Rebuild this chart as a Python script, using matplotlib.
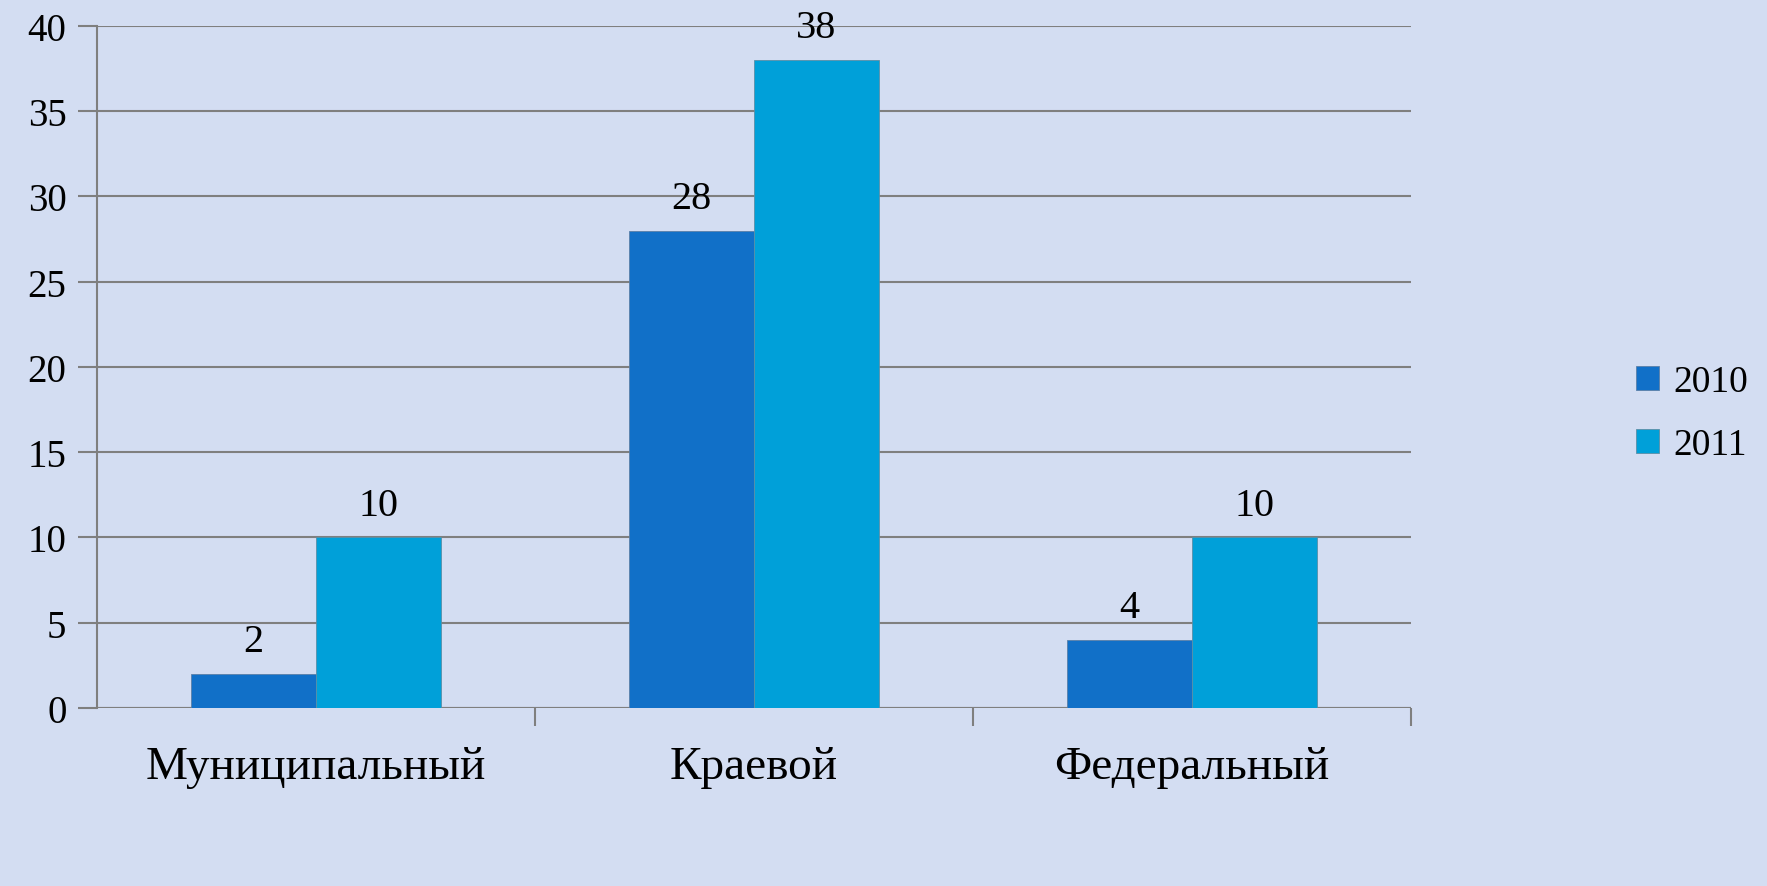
import matplotlib.pyplot as plt
import numpy as np

categories = ['Муниципальный', 'Краевой', 'Федеральный']
years = ['2010', '2011']
values_2010 = [2, 28, 4]
values_2011 = [10, 38, 10]
colors = ['#1170C8', '#00A0D9']

plt.rcParams['font.family'] = ['Liberation Serif', 'DejaVu Serif']

fig = plt.figure(figsize=(17.67, 8.87), dpi=100)
fig.patch.set_facecolor('#D3DDF2')
ax = fig.add_axes([0.0549, 0.2007, 0.7436, 0.7689])
ax.set_facecolor('none')

x = np.arange(len(categories))
w = 0.286
b1 = ax.bar(x - w / 2, values_2010, w, color=colors[0], edgecolor='#5a7fa8', linewidth=0.6, label=years[0], zorder=3)
b2 = ax.bar(x + w / 2, values_2011, w, color=colors[1], edgecolor='#5a8fa8', linewidth=0.6, label=years[1], zorder=3)

for bars in (b1, b2):
    for r in bars:
        ax.text(r.get_x() + r.get_width() / 2, r.get_height() + 1.9, str(int(r.get_height())),
                ha='center', va='center', fontsize=29, zorder=4)

ax.set_xlim(-0.5, 2.5)
ax.set_ylim(0, 40)
ax.set_yticks(range(0, 41, 5))
ax.yaxis.grid(True, color='#7f7f7f', linewidth=1.5, zorder=0)
ax.set_axisbelow(True)

for s in ['top', 'right', 'bottom']:
    ax.spines[s].set_visible(False)
ax.spines['left'].set_color('#7f7f7f')
ax.spines['left'].set_linewidth(1.5)
ax.axhline(0, color='#7f7f7f', linewidth=1.5, zorder=2)

ax.tick_params(axis='y', length=14, width=1.5, color='#7f7f7f', labelsize=28, pad=8)
ax.set_xticks(x)
ax.set_xticklabels(categories, fontsize=34)
ax.tick_params(axis='x', length=0, pad=27)
ax.set_xticks([0.5, 1.5, 2.5], minor=True)
ax.tick_params(axis='x', which='minor', length=13, width=1.5, color='#7f7f7f')

leg = ax.legend(loc='center left', bbox_to_anchor=(1.16, 0.432), frameon=False, fontsize=27,
                handlelength=0.6, handleheight=0.6, labelspacing=0.75, handletextpad=0.4,
                borderaxespad=0.2, borderpad=0.2)

plt.savefig('out.png', dpi=100, facecolor=fig.get_facecolor())
